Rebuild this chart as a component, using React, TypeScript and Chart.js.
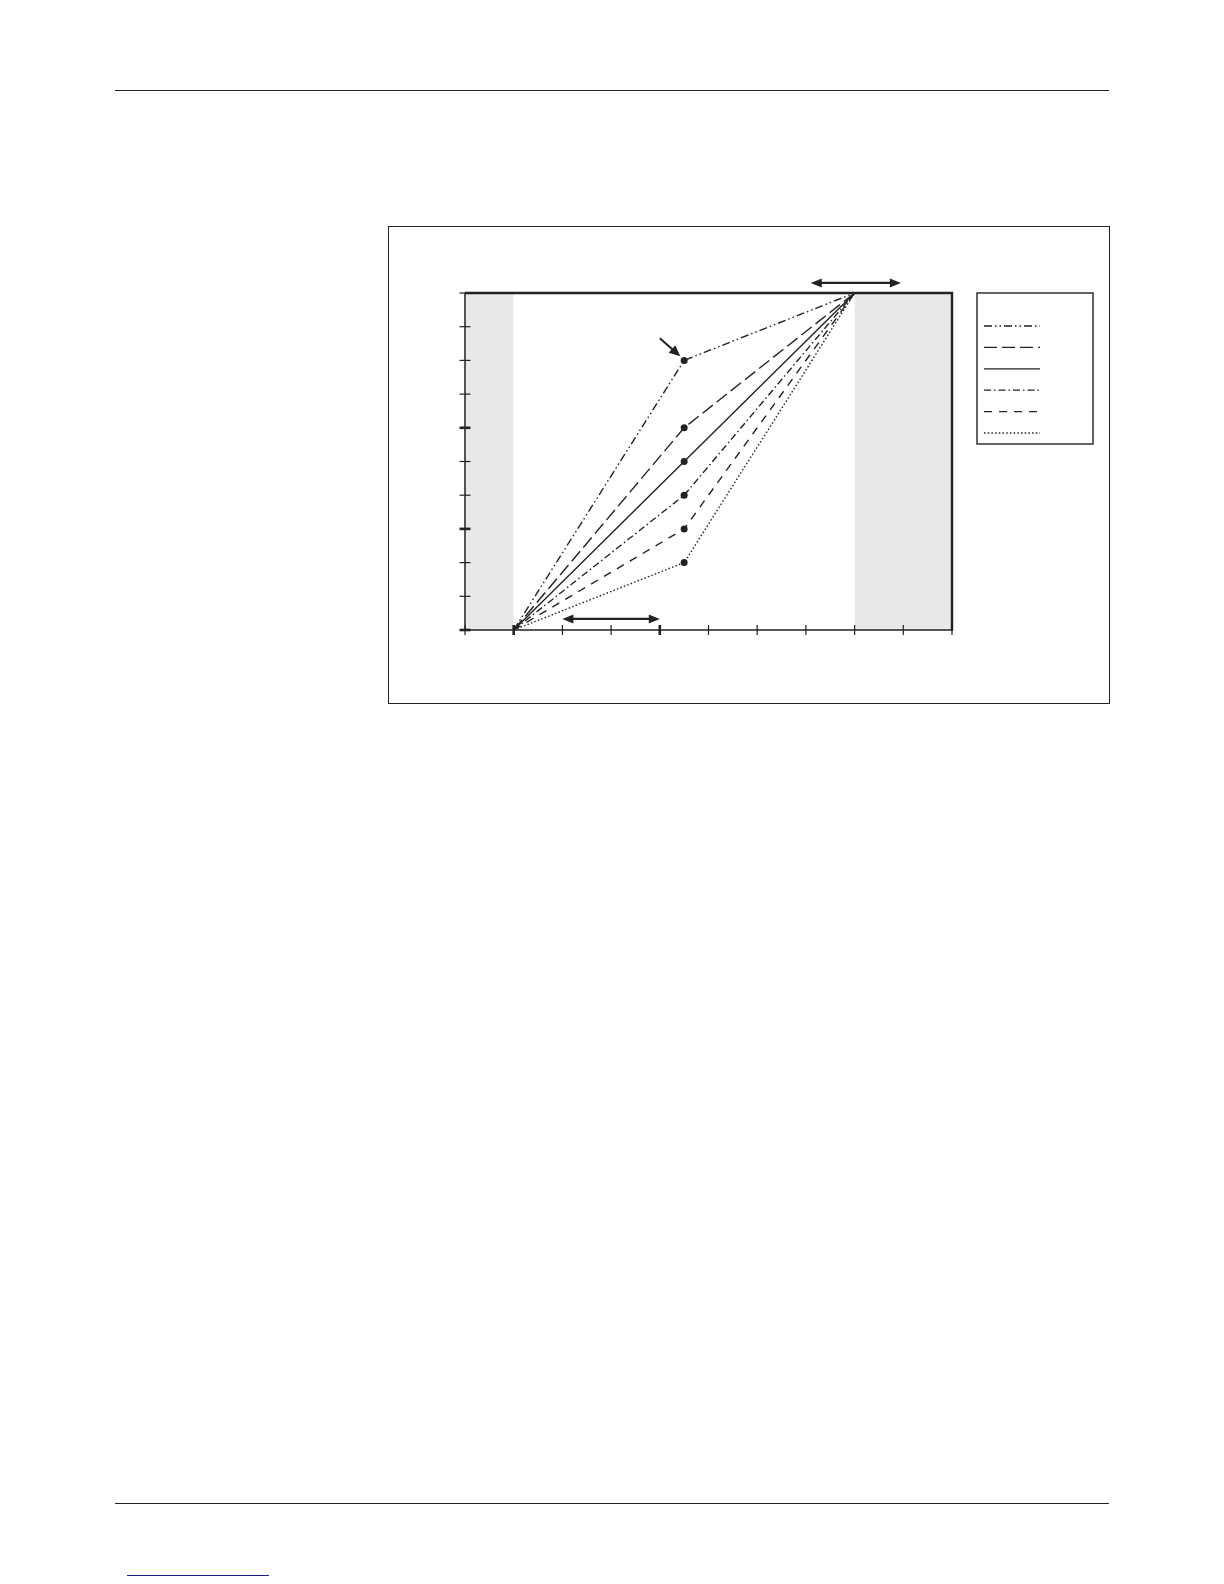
import React, { useEffect, useRef } from 'react';
import Chart from 'chart.js/auto';

// x positions shared by every curve: start, knee, end
const xValues = [1, 4.5, 8];

// y values of each curve at those x positions (top curve first)
const curveA = [0, 8, 10];
const curveB = [0, 6, 10];
const curveC = [0, 5, 10];
const curveD = [0, 4, 10];
const curveE = [0, 3, 10];
const curveF = [0, 2, 10];

// axis ticks
const xTicks = [0, 1, 2, 3, 4, 5, 6, 7, 8, 9, 10];
const yTicks = [0, 1, 2, 3, 4, 5, 6, 7, 8, 9, 10];
const xMajorTicks = [1, 4];
const yMajorTicks = [0, 3, 6];

// grey zones along x
const shadedRanges = [
  [0, 1],
  [8, 10],
];

// double-headed range arrows (x from, x to, at y)
const rangeFrom = [7.1, 2];
const rangeTo = [8.95, 4];
const rangeAt = [10.3, 0.33];

// single pointer arrow onto the knee of the top curve
const pointerStart = [4.0, 8.66];
const pointerEnd = [4.42, 8.12];

const INK = '#222222';

const drawHead = (ctx: CanvasRenderingContext2D, x: number, y: number, angle: number, len = 11, half = 4.5) => {
  ctx.save();
  ctx.translate(x, y);
  ctx.rotate(angle);
  ctx.beginPath();
  ctx.moveTo(0, 0);
  ctx.lineTo(-len, -half);
  ctx.lineTo(-len, half);
  ctx.closePath();
  ctx.fill();
  ctx.restore();
};

const diagramPlugin = {
  id: 'diagram',
  beforeDatasetsDraw(chart: any) {
    const { ctx, chartArea, scales } = chart;
    const x = scales.x;
    ctx.save();
    ctx.fillStyle = '#e9e9e9';
    shadedRanges.forEach(([a, b]) => {
      const l = x.getPixelForValue(a);
      const r = x.getPixelForValue(b);
      ctx.fillRect(l, chartArea.top, r - l, chartArea.bottom - chartArea.top);
    });
    ctx.restore();
  },
  afterDraw(chart: any) {
    const { ctx, chartArea, scales } = chart;
    const { left, right, top, bottom } = chartArea;
    const x = scales.x;
    const y = scales.y;
    ctx.save();
    ctx.strokeStyle = INK;
    ctx.fillStyle = INK;
    ctx.setLineDash([]);

    // axes
    ctx.lineWidth = 1.5;
    ctx.beginPath();
    ctx.moveTo(left, top);
    ctx.lineTo(left, bottom);
    ctx.lineTo(right, bottom);
    ctx.stroke();

    // heavy top and right frame
    ctx.lineWidth = 2.4;
    ctx.beginPath();
    ctx.moveTo(left, top);
    ctx.lineTo(right, top);
    ctx.lineTo(right, bottom + 1);
    ctx.stroke();

    // ticks crossing the axes
    yTicks.forEach((v) => {
      const py = y.getPixelForValue(v);
      ctx.lineWidth = yMajorTicks.includes(v) ? 2.6 : 1.2;
      ctx.beginPath();
      ctx.moveTo(left - 5.5, py);
      ctx.lineTo(left + 5.5, py);
      ctx.stroke();
    });
    xTicks.forEach((v) => {
      const px = x.getPixelForValue(v);
      ctx.lineWidth = xMajorTicks.includes(v) ? 2.6 : 1.2;
      ctx.beginPath();
      ctx.moveTo(px, bottom - 5);
      ctx.lineTo(px, bottom + 5);
      ctx.stroke();
    });

    // range arrows
    rangeFrom.forEach((from, i) => {
      const x1 = x.getPixelForValue(from);
      const x2 = x.getPixelForValue(rangeTo[i]);
      const py = y.getPixelForValue(rangeAt[i]);
      ctx.lineWidth = 2.2;
      ctx.beginPath();
      ctx.moveTo(x1 + 8, py);
      ctx.lineTo(x2 - 8, py);
      ctx.stroke();
      drawHead(ctx, x1, py, Math.PI);
      drawHead(ctx, x2, py, 0);
    });

    // pointer arrow
    const sx = x.getPixelForValue(pointerStart[0]);
    const sy = y.getPixelForValue(pointerStart[1]);
    const ex = x.getPixelForValue(pointerEnd[0]);
    const ey = y.getPixelForValue(pointerEnd[1]);
    const ang = Math.atan2(ey - sy, ex - sx);
    ctx.lineWidth = 2;
    ctx.beginPath();
    ctx.moveTo(sx, sy);
    ctx.lineTo(ex - 8 * Math.cos(ang), ey - 8 * Math.sin(ang));
    ctx.stroke();
    drawHead(ctx, ex, ey, ang, 11, 5);

    // legend box with line samples only
    const boxL = right + 25;
    const boxT = top;
    ctx.lineWidth = 1.4;
    ctx.strokeRect(boxL, boxT, 116, 151);
    chart.data.datasets.forEach((ds: any, i: number) => {
      const ly = boxT + 33 + i * 21.4;
      ctx.lineWidth = 1.3;
      ctx.setLineDash(ds.borderDash || []);
      ctx.beginPath();
      ctx.moveTo(boxL + 7, ly);
      ctx.lineTo(boxL + 63, ly);
      ctx.stroke();
    });
    ctx.restore();
  },
};

const makeSet = (label: string, values: number[], dash: number[]) => ({
  label,
  data: xValues.map((xv, i) => ({ x: xv, y: values[i] })),
  borderColor: INK,
  borderWidth: 1.4,
  borderDash: dash,
  pointRadius: [0, 3.5, 0],
  pointBackgroundColor: INK,
  pointBorderWidth: 0,
  tension: 0,
  fill: false,
});

const DiagramChart: React.FC = () => {
  const canvasRef = useRef<HTMLCanvasElement>(null);

  useEffect(() => {
    if (!canvasRef.current) return;
    const chart = new Chart(canvasRef.current, {
      type: 'line',
      data: {
        datasets: [
          makeSet('A', curveA, [8, 3, 1.5, 3, 1.5, 3]),
          makeSet('B', curveB, [13, 5]),
          makeSet('C', curveC, []),
          makeSet('D', curveD, [7, 3, 1.5, 3]),
          makeSet('E', curveE, [8, 7]),
          makeSet('F', curveF, [1.5, 2.2]),
        ],
      },
      options: {
        animation: false,
        responsive: true,
        maintainAspectRatio: false,
        layout: { padding: { left: 77, top: 66, right: 157, bottom: 73 } },
        plugins: { legend: { display: false }, tooltip: { enabled: false } },
        scales: {
          x: { type: 'linear', min: 0, max: 10, display: false },
          y: { type: 'linear', min: 0, max: 10, display: false },
        },
      },
      plugins: [diagramPlugin],
    });
    return () => chart.destroy();
  }, []);

  return (
    <div style={{ position: 'absolute', left: 388, top: 227, width: 721, height: 476 }}>
      <canvas ref={canvasRef}></canvas>
    </div>
  );
};

const rule = (left: number, top: number, width: number, color = INK) => (
  <div style={{ position: 'absolute', left, top, width, height: 1.4, background: color }} />
);

export default function App() {
  return (
    <div style={{ position: 'absolute', left: 0, top: 0, width: 1224, height: 1584, background: '#fff', overflow: 'hidden' }}>
      {rule(115, 89.5, 994)}
      <div
        style={{
          position: 'absolute',
          left: 387.5,
          top: 226,
          width: 722,
          height: 478,
          border: `1.5px solid ${INK}`,
          boxSizing: 'border-box',
        }}
      />
      <DiagramChart />
      {rule(115, 1502.5, 994)}
      {rule(127, 1574.5, 142, '#1c1c96')}
    </div>
  );
}
